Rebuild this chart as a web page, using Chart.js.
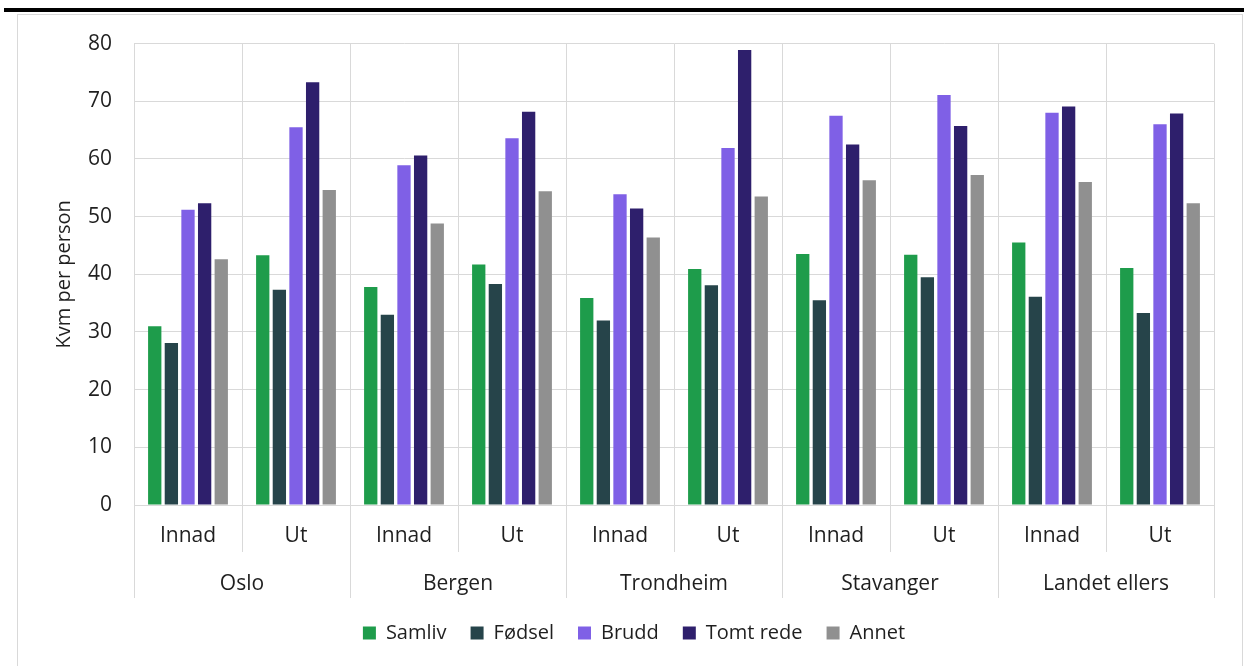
<!DOCTYPE html>
<html lang="no">
<head>
<meta charset="utf-8">
<title>Kvm per person</title>
<script src="https://cdn.jsdelivr.net/npm/chart.js@4/dist/chart.umd.min.js"></script>
<style>
    html, body { margin: 0; padding: 0; background: #fff; overflow: hidden; }
    body { width: 1244px; height: 666px; position: relative; font-family: "Open Sans", sans-serif; }
    .top-rule { position: absolute; left: 4px; top: 8px; width: 1240px; height: 4px; background: #000; }
    .frame { position: absolute; left: 17px; top: 14px; width: 1224px; height: 670px; border: 1px solid #d9d9d9; }
    #moveChart { position: absolute; left: 0; top: -6px; }
</style>
</head>
<body>
<div class="top-rule"></div>
<div class="frame">
    <canvas id="moveChart" width="1224" height="658"></canvas>
</div>

<script>
/* --- DATA --- */
const regions = ['Oslo', 'Bergen', 'Trondheim', 'Stavanger', 'Landet ellers'];
const directions = ['Innad', 'Ut'];
const seriesNames = ['Samliv', 'Fødsel', 'Brudd', 'Tomt rede', 'Annet'];

// one value per region and direction: Oslo Innad, Oslo Ut, Bergen Innad, ...
const samliv   = [31.0, 43.3, 37.8, 41.7, 35.9, 40.9, 43.5, 43.4, 45.5, 41.1];
const fodsel   = [28.1, 37.3, 33.0, 38.3, 32.0, 38.1, 35.5, 39.5, 36.1, 33.3];
const brudd    = [51.2, 65.5, 58.9, 63.6, 53.9, 61.9, 67.5, 71.1, 68.0, 66.0];
const tomtRede = [52.3, 73.3, 60.6, 68.2, 51.4, 78.9, 62.5, 65.7, 69.1, 67.9];
const annet    = [42.6, 54.6, 48.8, 54.4, 46.4, 53.5, 56.3, 57.2, 56.0, 52.3];

const yTicks = [0, 10, 20, 30, 40, 50, 60, 70, 80];

const colors = ['#1e9c4b', '#26444a', '#7f60e6', '#2e1f6c', '#909090'];
const gridColor = '#d9d9d9';
const textColor = '#1f1f1f';

document.addEventListener('DOMContentLoaded', () => {
    renderChart();
});

// legend in the original sits a bit right of the canvas centre
const legendNudge = {
    id: 'legendNudge',
    afterLayout(chart) {
        chart.legend.left += 18;
        chart.legend.right += 18;
    }
};

function renderChart() {
    const ctx = document.getElementById('moveChart').getContext('2d');

    // Innad / Ut repeated under each region
    const subLabels = regions.flatMap(() => directions);
    const values = [samliv, fodsel, brudd, tomtRede, annet];

    new Chart(ctx, {
        type: 'bar',
        data: {
            labels: subLabels,
            datasets: seriesNames.map((name, i) => ({
                label: name,
                data: values[i],
                backgroundColor: colors[i],
                borderWidth: 0,
                xAxisID: 'x',
                barPercentage: 0.8,
                categoryPercentage: 0.77
            }))
        },
        plugins: [legendNudge],
        options: {
            responsive: false,
            animation: false,
            devicePixelRatio: 1,
            layout: { padding: { top: 21, right: 28, bottom: 14, left: 0 } },
            plugins: {
                tooltip: { enabled: false },
                legend: {
                    position: 'bottom',
                    labels: {
                        boxWidth: 13,
                        boxHeight: 13,
                        padding: 24,
                        color: textColor,
                        font: { family: 'Open Sans', size: 20 }
                    }
                }
            },
            scales: {
                x: {
                    type: 'category',
                    position: 'bottom',
                    offset: true,
                    grid: { offset: true, color: gridColor, lineWidth: 1, tickLength: 47 },
                    border: { color: gridColor },
                    ticks: {
                        autoSkip: false,
                        maxRotation: 0,
                        padding: -29,
                        color: textColor,
                        font: { family: 'Open Sans', size: 21 }
                    },
                    afterFit: (scale) => { scale.height = 47; }
                },
                x2: {
                    type: 'category',
                    position: 'bottom',
                    labels: regions,
                    offset: true,
                    grid: { offset: true, drawOnChartArea: false, color: gridColor, lineWidth: 1, tickLength: 46 },
                    border: { display: false },
                    ticks: {
                        autoSkip: false,
                        maxRotation: 0,
                        padding: -27,
                        color: textColor,
                        font: { family: 'Open Sans', size: 21 }
                    },
                    afterFit: (scale) => { scale.height = 47; }
                },
                y: {
                    min: yTicks[0],
                    max: yTicks[yTicks.length - 1],
                    afterBuildTicks: (scale) => { scale.ticks = yTicks.map(v => ({ value: v })); },
                    grid: { color: gridColor, lineWidth: 1, drawTicks: false },
                    border: { color: gridColor },
                    ticks: {
                        padding: 22,
                        color: textColor,
                        font: { family: 'Open Sans', size: 21 }
                    },
                    title: {
                        display: true,
                        text: 'Kvm per person',
                        color: textColor,
                        padding: { top: 34, bottom: 0 },
                        font: { family: 'Open Sans', size: 20 }
                    },
                    afterFit: (scale) => { scale.width = 116; }
                }
            }
        }
    });
}
</script>
</body>
</html>
